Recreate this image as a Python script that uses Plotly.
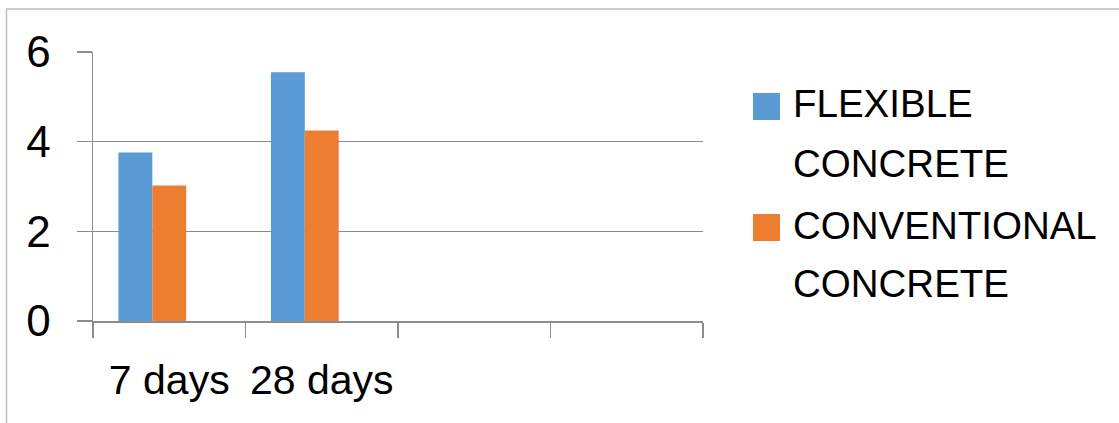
import plotly.graph_objects as go

categories = ["7 days", "28 days", " ", "  "]
series_names = ["FLEXIBLE CONCRETE", "CONVENTIONAL CONCRETE"]
flexible = [3.76, 5.55]
conventional = [3.02, 4.25]
y_ticks = [0, 2, 4, 6]

colors = ["#5B9BD5", "#ED7D31"]
FONT = "Liberation Sans, Arial, sans-serif"

W, H = 1119, 423
L, R, T, B = 93, 703, 52, 321

def px(x):
    return (x - L) / (R - L)

def py(y):
    return (B - y) / (B - T)

fig = go.Figure()
bar_w = 1 / 4.5
offsets = [-1.5 * bar_w, -0.5 * bar_w]
for vals, name, col, off in zip([flexible, conventional], series_names, colors, offsets):
    fig.add_trace(go.Bar(
        x=categories[:len(vals)], y=vals, name=name,
        marker=dict(color=col, line=dict(width=0)),
        width=bar_w, offset=off, showlegend=False,
    ))

# manual legend (square + wrapped name lines)
square_tops = [93, 214]
line_centers = [[104, 163], [225, 283]]
for name, col, sq, centers in zip(series_names, colors, square_tops, line_centers):
    fig.add_shape(type="rect", xref="paper", yref="paper",
                  x0=px(753), x1=px(780), y0=py(sq + 27), y1=py(sq),
                  fillcolor=col, line=dict(width=0))
    for word, c in zip(name.split(" "), centers):
        fig.add_annotation(xref="paper", yref="paper", x=px(791), y=py(c),
                           xanchor="left", yanchor="middle", align="left",
                           text=word, showarrow=False,
                           font=dict(family=FONT, size=38.5, color="#000000"))

# chart area border
fig.add_shape(type="rect", xref="paper", yref="paper",
              x0=px(6.5), x1=px(1140), y0=py(440), y1=py(9),
              line=dict(color="#BFBFBF", width=1.5), fillcolor="rgba(0,0,0,0)",
              layer="below")

fig.update_layout(
    width=W, height=H,
    margin=dict(l=L, r=W - R, t=T, b=H - B, pad=0, autoexpand=False),
    paper_bgcolor="white", plot_bgcolor="white",
    barmode="overlay",
    font=dict(family=FONT, size=40, color="#000000"),
    showlegend=False,
)
fig.update_xaxes(
    type="category", categoryorder="array", categoryarray=categories,
    range=[-0.5, len(categories) - 0.5], automargin=False, tickangle=0,
    showline=True, linecolor="#8C8C8C", linewidth=1.5,
    ticks="outside", tickson="boundaries", ticklen=15, tickcolor="#8C8C8C", tickwidth=1.5,
    showgrid=False, ticklabelstandoff=22,
    tickfont=dict(family=FONT, size=41, color="#000000"),
)
fig.update_yaxes(
    range=[0, 6], tickvals=y_ticks, automargin=False,
    showline=True, linecolor="#8C8C8C", linewidth=1.5,
    ticks="outside", ticklen=15, tickcolor="#8C8C8C", tickwidth=1.5,
    showgrid=True, gridcolor="#8C8C8C", gridwidth=1.2, zeroline=False,
    ticklabelstandoff=17,
    tickfont=dict(family=FONT, size=44, color="#000000"),
)

fig.write_html(
    "out.html",
    config={"displayModeBar": False, "staticPlot": True},
    post_script="document.body.style.margin='0';document.body.style.overflow='hidden';",
)
